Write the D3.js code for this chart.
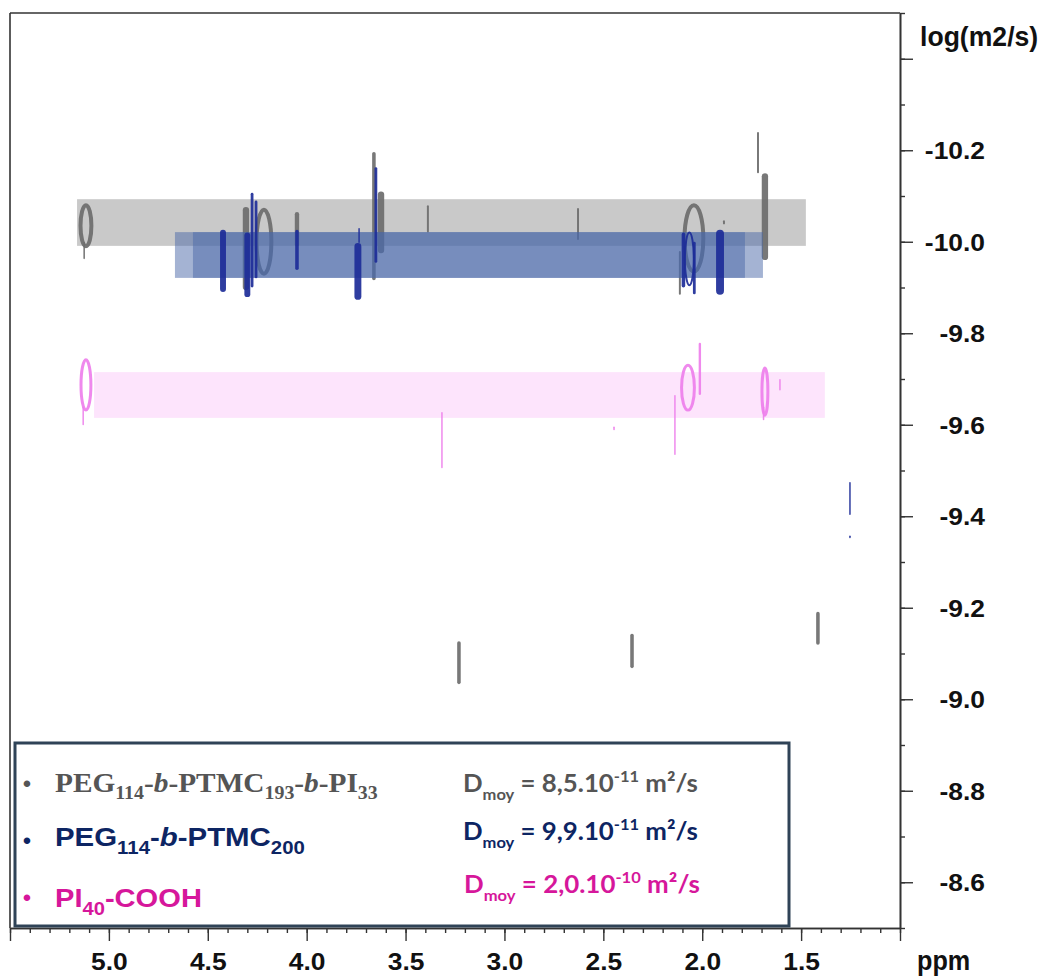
<!DOCTYPE html>
<html><head><meta charset="utf-8">
<script src="https://cdn.jsdelivr.net/npm/d3@7"></script>
<style>body{margin:0;background:#fff;} svg{display:block;}</style>
</head><body><svg id="c" width="1041" height="978"></svg>
<script>
// ---------------- data ----------------
const xTickValues = [5.0, 4.5, 4.0, 3.5, 3.0, 2.5, 2.0, 1.5];
const xTickLabels = ["5.0", "4.5", "4.0", "3.5", "3.0", "2.5", "2.0", "1.5"];
const yTickValues = [-10.2, -10.0, -9.8, -9.6, -9.4, -9.2, -9.0, -8.8, -8.6];
const yTickLabels = ["-10.2", "-10.0", "-9.8", "-9.6", "-9.4", "-9.2", "-9.0", "-8.8", "-8.6"];

// diffusion bands: [ppmStart, ppmEnd, logTop, logBottom]
const bandGray = [[5.161, 1.476, -10.093, -9.991]];
const bandBlue = [[4.666, 1.784, -10.021, -9.921], [4.575, 1.693, -10.021, -9.921]];
const bandPink = [[5.075, 1.380, -9.715, -9.615]];

// peaks (streaks): [ppm, logTop, logBottom, ppmWidth]
const grayStreaks = [
  [5.125, -10.00, -9.962, 0.008],
  [4.307, -10.076, -9.894, 0.032],
  [4.049, -10.065, -9.99, 0.022],
  [3.660, -10.196, -9.916, 0.018],
  [3.624, -10.11, -9.975, 0.032],
  [3.387, -10.08, -10.02, 0.010],
  [2.628, -10.074, -10.004, 0.010],
  [2.113, -9.98, -9.884, 0.010],
  [1.718, -10.24, -10.15, 0.010],
  [1.683, -10.15, -9.96, 0.032],
  [1.890, -10.047, -10.038, 0.010],
  [3.230, -9.127, -9.033, 0.018],
  [2.355, -9.143, -9.068, 0.018],
  [1.415, -9.191, -9.119, 0.018]
];
// peaks (contour rings): [ppm, logTop, logBottom, ppmWidth]
const grayRings = [
  [5.116, -10.08, -9.99, 0.055],
  [4.216, -10.07, -9.93, 0.075],
  [2.042, -10.08, -9.935, 0.095]
];
const blueStreaks = [
  [4.423, -10.026, -9.890, 0.030],
  [4.300, -10.02, -9.879, 0.030],
  [4.276, -10.107, -9.90, 0.014],
  [4.256, -10.09, -9.92, 0.014],
  [4.049, -10.026, -9.938, 0.018],
  [3.741, -9.997, -9.873, 0.035],
  [3.735, -10.03, -9.997, 0.007],
  [3.650, -10.163, -9.954, 0.014],
  [2.095, -10.02, -9.90, 0.018],
  [2.040, -10.00, -9.885, 0.014],
  [1.910, -10.026, -9.884, 0.040],
  [1.253, -9.475, -9.403, 0.007],
  [1.253, -9.358, -9.352, 0.006]
];
const blueRings = [
  [2.065, -10.02, -9.905, 0.045]
];
const pinkStreaks = [
  [5.130, -9.64, -9.599, 0.006],
  [3.316, -9.628, -9.505, 0.006],
  [2.446, -9.596, -9.588, 0.008],
  [2.138, -9.665, -9.534, 0.006],
  [2.012, -9.779, -9.665, 0.012],
  [1.690, -9.64, -9.61, 0.006],
  [1.607, -9.70, -9.675, 0.006]
];
const pinkRings = [
  [5.116, -9.742, -9.632, 0.05],
  [2.072, -9.73, -9.632, 0.065],
  [1.683, -9.724, -9.621, 0.03]
];

const legendNames = ["PEG114-b-PTMC193-b-PI33", "PEG114-b-PTMC200", "PI40-COOH"];
const legendD = ["8,5.10", "9,9.10", "2,0.10"];
const legendExp = ["-11", "-11", "-10"];

// ---------------- chart ----------------
const svg = d3.select("#c");
const x = d3.scaleLinear().domain([5.5, 1.0]).range([10, 900]);
const y = d3.scaleLinear().domain([-10.5, -8.5]).range([13, 928]);

const C_GRAY = "#6d6d6d", C_BLUE = "#1d2c98", C_PINK = "#ee7fec";

function bands(data, fill, op) {
  svg.append("g").selectAll("rect").data(data).join("rect")
    .attr("x", d => x(d[0])).attr("width", d => x(d[1]) - x(d[0]))
    .attr("y", d => y(d[2])).attr("height", d => y(d[3]) - y(d[2]))
    .attr("fill", fill).attr("fill-opacity", op);
}
function streaks(data, col) {
  svg.append("g").selectAll("rect").data(data).join("rect")
    .attr("x", d => { const w = Math.max(1.5, Math.abs(x(d[0] + d[3] / 2) - x(d[0] - d[3] / 2))); return x(d[0]) - w / 2; })
    .attr("width", d => Math.max(1.5, Math.abs(x(d[0] + d[3] / 2) - x(d[0] - d[3] / 2))))
    .attr("y", d => y(d[1])).attr("height", d => Math.max(1.5, y(d[2]) - y(d[1])))
    .attr("rx", d => Math.max(0.75, Math.abs(x(d[0] + d[3] / 2) - x(d[0] - d[3] / 2)) / 2))
    .attr("fill", col).attr("fill-opacity", 0.92);
}
function rings(data, col, sw) {
  svg.append("g").selectAll("ellipse").data(data).join("ellipse")
    .attr("cx", d => x(d[0])).attr("cy", d => (y(d[1]) + y(d[2])) / 2)
    .attr("rx", d => Math.abs(x(d[0] + d[3] / 2) - x(d[0] - d[3] / 2)) / 2)
    .attr("ry", d => (y(d[2]) - y(d[1])) / 2)
    .attr("fill", "none").attr("stroke", col).attr("stroke-width", sw).attr("stroke-opacity", 0.92);
}

bands(bandGray, "#c9c9c9", 1);
streaks(grayStreaks, C_GRAY);
rings(grayRings, C_GRAY, 4);
bands(bandBlue, "#4a68a8", 0.5);
streaks(blueStreaks, C_BLUE);
rings(blueRings, C_BLUE, 2);
bands(bandPink, "#fde4fc", 1);
streaks(pinkStreaks, C_PINK);
rings(pinkRings, C_PINK, 3);

// ---------------- axes ----------------
const AX = "#333";
const xMinor = d3.range(46).map(i => +(5.5 - i * 0.1).toFixed(1));
const xMajor = xMinor.filter(v => Math.abs(v * 2 - Math.round(v * 2)) < 1e-6);
const yMinor = d3.range(21).map(i => +(-10.5 + i * 0.1).toFixed(1));
const yMajor = yMinor.filter(v => Math.abs(v * 5 - Math.round(v * 5)) < 1e-6);

const fontAxis = "'Liberation Sans', Arial, Helvetica, sans-serif";

const gxm = svg.append("g").attr("transform", "translate(0,928)")
  .call(d3.axisBottom(x).tickValues(xMinor).tickSize(5).tickSizeOuter(0).tickFormat(""));
const gx = svg.append("g").attr("transform", "translate(0,928)")
  .call(d3.axisBottom(x).tickValues(xMajor).tickSize(13).tickSizeOuter(0)
    .tickFormat(d => { const i = xTickValues.findIndex(v => Math.abs(v - d) < 1e-6); return i >= 0 ? xTickLabels[i] : ""; }));
gx.selectAll("text").attr("y", 42).attr("dy", 0)
  .attr("font-family", fontAxis).attr("font-weight", "bold").attr("font-size", 24)
  .attr("fill", "#111").attr("transform", "scale(1.1,1)");

const gym = svg.append("g").attr("transform", "translate(900,0)")
  .call(d3.axisRight(y).tickValues(yMinor).tickSize(5).tickSizeOuter(0).tickFormat(""));
const gy = svg.append("g").attr("transform", "translate(900,0)")
  .call(d3.axisRight(y).tickValues(yMajor).tickSize(13).tickSizeOuter(0)
    .tickFormat(d => { const i = yTickValues.findIndex(v => Math.abs(v - d) < 1e-6); return i >= 0 ? yTickLabels[i] : ""; }));
gy.selectAll("text").attr("x", 0).attr("dy", "0.35em").attr("text-anchor", "end")
  .attr("font-family", fontAxis).attr("font-weight", "bold").attr("font-size", 24)
  .attr("fill", "#111").attr("transform", "translate(85,0) scale(1.1,1)");

svg.selectAll(".domain").attr("stroke", AX).attr("stroke-width", 1.6);
svg.selectAll(".tick line").attr("stroke", AX).attr("stroke-width", 1.4);

// frame (top and left)
svg.append("line").attr("x1", x(5.5)).attr("x2", x(1.0)).attr("y1", y(-10.5)).attr("y2", y(-10.5))
  .attr("stroke", AX).attr("stroke-width", 1.6);
svg.append("line").attr("x1", x(5.5)).attr("x2", x(5.5)).attr("y1", y(-10.5)).attr("y2", y(-8.5))
  .attr("stroke", AX).attr("stroke-width", 1.6);

// axis titles
svg.append("text").attr("x", 0).attr("y", 0).text("log(m2/s)")
  .attr("font-family", fontAxis).attr("font-weight", "bold").attr("font-size", 28).attr("fill", "#111")
  .attr("transform", "translate(920,46) scale(0.95,1)");
svg.append("text").attr("x", 0).attr("y", 0).text("ppm")
  .attr("font-family", fontAxis).attr("font-weight", "bold").attr("font-size", 28).attr("fill", "#111")
  .attr("transform", "translate(917,970) scale(0.9,1)");

// ---------------- legend ----------------
svg.append("rect").attr("x", 15).attr("y", 743).attr("width", 774).attr("height", 183)
  .attr("fill", "#fff").attr("stroke", "#2f4357").attr("stroke-width", 3);

function rich(x0, y0, parts, opt) {
  const t = svg.append("text").attr("x", x0).attr("y", y0)
    .attr("font-family", opt.family).attr("font-weight", "bold").attr("font-size", opt.size).attr("fill", opt.color);
  let off = 0;
  parts.forEach(p => {
    const kind = p[1] || "";
    let target = 0, size = opt.size;
    if (kind === "sub") { target = opt.subOff; size = opt.subSize; }
    if (kind === "sup") { target = opt.supOff; size = opt.subSize; }
    const ts = t.append("tspan").text(p[0]).attr("font-size", size).attr("dy", target - off);
    if (kind === "i") ts.attr("font-style", "italic");
    off = target;
  });
  if (opt.width) {
    const w = t.node().getComputedTextLength();
    const s = opt.width / w;
    t.attr("transform", `translate(${x0},0) scale(${s},1) translate(${-x0},0)`);
  }
  return t;
}

const legColors = ["#555555", "#0d2563", "#d6179b"];
const serif = "'Liberation Serif', 'Times New Roman', Times, serif";
const sans = "'Liberation Sans', Arial, sans-serif";
const lato = "Lato, 'Open Sans', sans-serif";

// bullets
[785, 842, 899].forEach((yy, i) => {
  svg.append("text").attr("x", 27).attr("y", yy + 7).attr("text-anchor", "middle")
    .attr("font-family", sans).attr("font-size", 24).attr("fill", legColors[i]).text("•");
});

rich(55, 792, [["PEG"], ["114", "sub"], ["-"], ["b", "i"], ["-PTMC"], ["193", "sub"], ["-"], ["b", "i"], ["-PI"], ["33", "sub"]],
  { family: serif, size: 28, subSize: 19, subOff: 7, color: legColors[0], width: 323 });
rich(55, 846, [["PEG"], ["114", "sub"], ["-"], ["b", "i"], ["-PTMC"], ["200", "sub"]],
  { family: sans, size: 26, subSize: 18, subOff: 8, color: legColors[1], width: 250 });
rich(55, 907, [["PI"], ["40", "sub"], ["-COOH"]],
  { family: sans, size: 26, subSize: 18, subOff: 8, color: legColors[2], width: 147 });

const dBase = [792, 840, 893];
const dStart = [463, 463, 464];
const dWidth = [235, 235, 236];
legendD.forEach((v, i) => {
  rich(dStart[i], dBase[i], [["D"], ["moy", "sub"], [" = " + v], [legendExp[i], "sup"], [" m²/s"]],
    { family: lato, size: 25, subSize: 16, subOff: 8, supOff: -10, color: legColors[i], width: dWidth[i] });
});
</script></body></html>
